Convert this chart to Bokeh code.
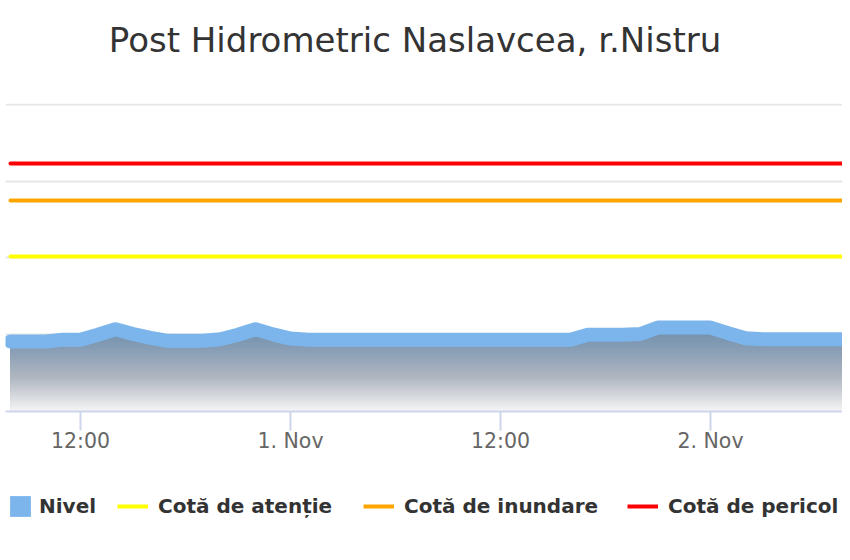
import numpy as np
import pandas as pd
from bokeh.plotting import figure
from bokeh.layouts import column
from bokeh.models import Range1d, FixedTicker, Legend, LegendItem, Label
from bokeh.embed import file_html
from bokeh.resources import INLINE

# ---------------- data ----------------
title_text = "Post Hidrometric Naslavcea, r.Nistru"
series_names = ["Nivel", "Cotă de atenție", "Cotă de inundare", "Cotă de pericol"]

# hourly observations 31 Oct 08:00 -> 2 Nov 08:00
times = pd.date_range("2023-10-31 08:00", "2023-11-02 08:00", freq="h")
nivel = [
    91.2, 91.2, 91.2, 93.4, 93.4, 100.0, 107.2, 101.0, 96.0, 92.1,
    92.1, 92.1, 94.2, 100.0, 107.2, 100.5, 95.0, 93.5, 93.5, 93.5,
    93.5, 93.5, 93.5, 93.5, 93.5, 93.5, 93.5, 93.5, 93.5, 93.5,
    93.5, 93.5, 93.5, 100.0, 100.0, 100.0, 101.0, 109.4, 109.4, 109.4,
    109.4, 102.0, 95.5, 94.2, 94.2, 94.2, 94.2, 94.2, 94.2,
]
cota_atentie = 202
cota_inundare = 275
cota_pericol = 323

tick_times = ["2023-10-31 12:00", "2023-11-01 00:00", "2023-11-01 12:00", "2023-11-02 00:00"]
tick_labels = ["12:00", "1. Nov", "12:00", "2. Nov"]
grid_levels = [0, 100, 200, 300, 400]

W = 842

def strip(height):
    f = figure(
        width=W, height=height, output_backend="svg", toolbar_location=None,
        x_range=Range1d(0, W), y_range=Range1d(0, height),
        x_axis_location=None, y_axis_location=None,
        min_border_left=0, min_border_right=0, min_border_top=0, min_border_bottom=0,
        outline_line_color=None, background_fill_color="white", border_fill_color="white",
    )
    f.grid.visible = False
    return f

# ---------------- title strip ----------------
tf = strip(70)
tf.add_layout(Label(
    x=412, y=30.5, text=title_text, text_align="center", text_baseline="alphabetic",
    text_font="DejaVu Sans", text_font_size="34px", text_color="#333333",
))

# ---------------- main figure ----------------
p = figure(
    width=W, height=390, output_backend="svg", toolbar_location=None, title=None,
    x_axis_type="datetime",
    x_range=Range1d(pd.Timestamp("2023-10-31 07:42:51"), pd.Timestamp("2023-11-02 07:32:34")),
    y_range=Range1d(0, 401.3),
    min_border_left=5, min_border_right=0, min_border_top=33, min_border_bottom=49,
    outline_line_color=None, background_fill_color="white", border_fill_color="white",
)

p.yaxis.visible = False
p.xgrid.visible = False
p.ygrid.ticker = FixedTicker(ticks=grid_levels)
p.ygrid.grid_line_color = "#e6e6e6"
p.ygrid.grid_line_width = 2

tick_ms = [float(pd.Timestamp(t).value // 10**6) for t in tick_times]
xa = p.xaxis[0]
xa.ticker = FixedTicker(ticks=tick_ms)
xa.major_label_overrides = {ms: lab for ms, lab in zip(tick_ms, tick_labels)}
xa.axis_line_color = "#ccd6eb"
xa.axis_line_width = 2
xa.major_tick_line_color = "#ccd6eb"
xa.major_tick_line_width = 2
xa.major_tick_out = 19
xa.major_tick_in = 0
xa.minor_tick_line_color = None
xa.major_label_standoff = -2
xa.major_label_text_font = "DejaVu Sans"
xa.major_label_text_font_size = "20.5px"
xa.major_label_text_color = "#666666"

# gradient area (layered bands, darker at the top)
vals = np.array(nivel, dtype=float)
top = vals.max()
stops_f = [0.0, 0.3, 0.6, 1.0]
stops_c = [(112, 142, 172), (140, 160, 182), (176, 183, 192), (246, 246, 246)]
n_layers = 60
for i in range(n_layers):
    hi = top * (1 - i / n_layers)
    f = (i + 0.5) / n_layers
    rgb = [int(round(np.interp(f, stops_f, [c[k] for c in stops_c]))) for k in range(3)]
    p.varea(x=times, y1=0, y2=np.minimum(vals, hi),
            fill_color="#%02x%02x%02x" % tuple(rgb), fill_alpha=1.0)

p.line(times, vals, line_color="#7cb5ec", line_width=14, line_cap="round", line_join="round")

t_ends = [times[0], times[-1]]
p.line(t_ends, [cota_atentie] * 2, line_color="#ffff00", line_width=4, line_cap="round")
p.line(t_ends, [cota_inundare] * 2, line_color="#ffa500", line_width=4, line_cap="round")
p.line(t_ends, [cota_pericol] * 2, line_color="#ff0000", line_width=4, line_cap="round")

# ---------------- legend strip ----------------
lf = strip(92)
# legend proxies carry the series styles; they lie outside the strip's visible range
nivel_proxy = lf.varea(x=t_ends, y1=0, y2=[nivel[0], nivel[-1]], fill_color="#7cb5ec")
att_proxy = lf.line(t_ends, [cota_atentie] * 2, line_color="#ffff00", line_width=4)
inu_proxy = lf.line(t_ends, [cota_inundare] * 2, line_color="#ffa500", line_width=4)
per_proxy = lf.line(t_ends, [cota_pericol] * 2, line_color="#ff0000", line_width=4)

legend_x = [2, 112, 358, 622]
legend_gw = [26, 31, 31, 31]
legend_gh = [26, 30, 30, 30]
legend_std = [6, 10, 10, 10]
for name, rend, lx, gw, gh, sd in zip(series_names,
                                      [nivel_proxy, att_proxy, inu_proxy, per_proxy],
                                      legend_x, legend_gw, legend_gh, legend_std):
    lf.add_layout(Legend(
        items=[LegendItem(label=name, renderers=[rend])],
        location=(lx, 31), orientation="horizontal",
        glyph_width=gw, glyph_height=gh, label_height=30, label_standoff=sd,
        padding=0, margin=0, spacing=0,
        border_line_color=None, background_fill_alpha=0,
        label_text_font="DejaVu Sans", label_text_font_style="bold",
        label_text_font_size="20px", label_text_color="#333333",
    ), "center")

layout = column(tf, p, lf, spacing=0)
open("out.html", "w").write(file_html(layout, INLINE))
